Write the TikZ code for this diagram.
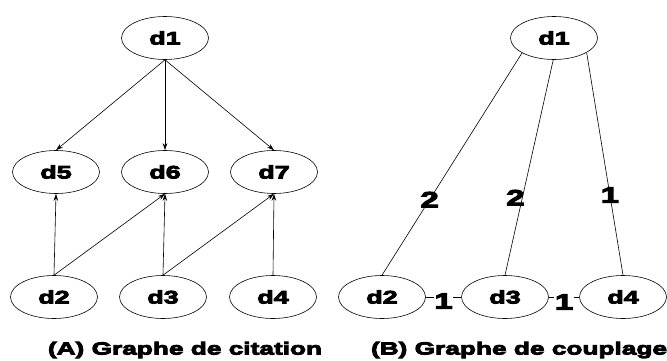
\documentclass[tikz,border=0pt]{standalone}
\usepackage{fontspec}
\setmainfont{Liberation Sans}
\newfontfamily\heavyfont[FakeStretch=1.5,FakeBold=5]{Liberation Sans Bold}
\usetikzlibrary{shapes.geometric,arrows.meta}
\begin{document}
\begin{tikzpicture}[x=1pt, y=1pt,
  doc/.style={ellipse, draw, line width=0.6pt, minimum width=87pt, minimum height=43pt, inner sep=0pt, font=\heavyfont\fontsize{18}{18}\selectfont},
  weight/.style={font=\heavyfont\fontsize{22}{22}\selectfont, inner sep=0.5pt},
  caption/.style={font=\heavyfont\fontsize{17.5}{17.5}\selectfont},
  cite/.style={line width=0.6pt, -{Stealth[length=7pt,width=4.5pt]}},
  link/.style={line width=0.6pt},
  node distance=109pt
]
\useasboundingbox (0,0) rectangle (667,360);

% (A) citation graph
\node[doc] (a1) at (165,322) {d1};
\node[doc, below of=a1, node distance=134pt] (a6) {d6};
\node[doc, left of=a6] (a5) {d5};
\node[doc, right of=a6] (a7) {d7};
\node[doc, below of=a6, node distance=125pt, xshift=-2pt] (a3) {d3};
\node[doc, left of=a3] (a2) {d2};
\node[doc, right of=a3, node distance=110pt] (a4) {d4};

\draw[cite] (a1.south) -- (a5.north);
\draw[cite] (a1.south) -- (a6.north);
\draw[cite] (a1.south) -- (a7.north);
\draw[cite] (a2.north) -- (a5.south);
\draw[cite] (a2.north) -- (a6.south);
\draw[cite] (a3.north) -- (a6.south);
\draw[cite] (a3.north) -- (a7.south);
\draw[cite] (a4.north) -- (a7.south);

\node[caption] (capa) at (185,10) {(A) Graphe de citation};

% (B) coupling graph
\node[doc] (b1) at (554,322) {d1};
\node[doc] (b2) at (382,63) {d2};
\node[doc, right of=b2, node distance=123pt] (b3) {d3};
\node[doc, right of=b3, node distance=118pt] (b4) {d4};

\draw[link] (b1.205) -- node[weight, pos=0.66] {2} (b2.north);
\draw[link] (b1.268) -- node[weight, pos=0.64, xshift=-7pt] {2} (b3.north);
\draw[link] (b1.336) -- node[weight, pos=0.64] {1} (b4.north);
\draw[link] (b2.east) -- node[weight, fill=white, yshift=-4pt] {1} (b3.west);
\draw[link] (b3.east) -- node[weight, fill=white, yshift=-5pt] {1} (b4.west);

\node[caption] (capb) at (519,10) {(B) Graphe de couplage};
\end{tikzpicture}
\end{document}
